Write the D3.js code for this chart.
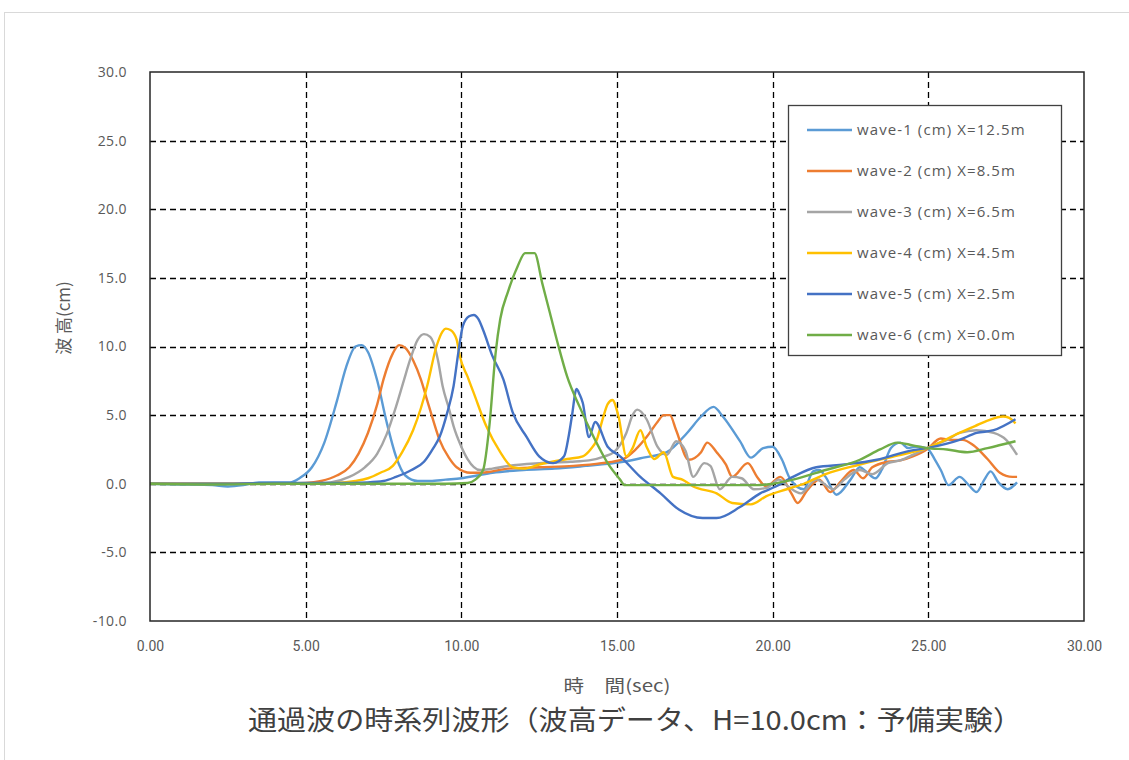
<!DOCTYPE html>
<html>
<head>
<meta charset="utf-8">
<script src="https://cdn.jsdelivr.net/npm/d3@7"></script>
<style>
  html, body { margin: 0; padding: 0; background: #fff; }
  svg { display: block; }
</style>
</head>
<body>
<script>
// Wave gauge records: time (sec) and wave height (cm)
const w1t = [0,1,2,2.5,3,3.5,4,4.5,4.8,5.2,5.6,6.0,6.3,6.6,6.8,7.0,7.3,7.6,7.9,8.2,8.6,9.0,9.5,10.0,10.5,11,12,13,14,14.45,15.2,15.85,16.6,17.25,17.7,18.1,18.4,18.95,19.3,19.7,20.0,20.3,20.55,21.0,21.3,21.5,21.7,22.05,22.5,22.8,23.0,23.3,23.5,23.8,24.1,24.35,24.6,24.95,25.2,25.4,25.65,26.0,26.3,26.55,26.8,27.0,27.25,27.55,27.85];
const w1v = [0,-0.05,-0.1,-0.2,-0.1,0.1,0.1,0.1,0.4,1.2,3.0,6.0,8.5,10.0,10.1,9.6,7.5,4.5,2.0,0.6,0.2,0.2,0.3,0.4,0.6,0.8,1.0,1.1,1.3,1.4,1.6,1.9,2.3,3.7,4.9,5.6,4.9,3.1,1.9,2.6,2.7,1.75,0.4,-0.4,0.9,1.0,0.5,-0.8,0.3,1.2,0.9,0.4,1.0,2.6,3.0,2.6,2.7,2.6,1.8,1.0,-0.1,0.5,-0.1,-0.6,0.3,0.9,0.1,-0.4,0.1];

const w2t = [0,2,4,5,5.5,6.0,6.4,6.7,7.0,7.3,7.5,7.8,8.0,8.2,8.45,8.7,8.9,9.1,9.3,9.6,9.85,10.3,10.6,11.5,12.5,13.6,14.5,15.2,15.6,15.95,16.3,16.5,16.7,16.9,17.3,17.7,17.9,18.2,18.5,18.7,19.2,19.5,19.8,20.25,20.6,20.8,21.1,21.5,21.85,22.2,22.6,22.9,23.2,23.7,24.1,24.5,24.95,25.4,25.7,26.1,26.45,26.9,27.3,27.7,27.85];
const w2v = [0,0,0,0.05,0.2,0.6,1.2,2.2,3.7,5.8,7.6,9.5,10.1,9.9,9.0,7.6,6.1,4.6,3.2,1.9,1.2,0.8,0.8,1.1,1.2,1.3,1.5,1.8,2.5,3.4,4.5,5.0,5.0,3.9,1.75,2.3,3.0,2.3,1.4,0.5,1.5,0.5,-0.2,0.5,-0.7,-1.4,-0.5,0.3,-0.6,0.2,1.0,0.4,1.2,1.6,1.7,2.0,2.5,3.3,3.2,3.2,2.8,1.8,0.8,0.5,0.5];

const w3t = [0,3,5,5.8,6.4,6.9,7.3,7.6,7.9,8.15,8.35,8.6,8.8,9.0,9.1,9.25,9.4,9.6,9.75,10.0,10.2,10.6,11.0,11.5,12.5,13.5,14.1,14.6,14.9,15.3,15.5,15.65,15.95,16.3,16.6,16.9,17.2,17.45,17.8,18.0,18.3,18.7,19.0,19.4,19.8,20.2,20.5,20.9,21.4,21.95,22.3,22.8,23.2,23.7,24.1,24.5,24.95,25.6,26.0,26.55,27.1,27.5,27.85];
const w3v = [0,0,0,0.1,0.5,1.2,2.2,3.6,5.6,7.5,9.0,10.5,10.9,10.7,10.3,9.0,7.1,5.5,4.2,2.7,1.8,1.0,1.1,1.3,1.5,1.6,1.7,2.0,2.3,3.7,5.0,5.4,4.7,2.7,2.1,3.1,2.4,0.5,1.5,1.3,-0.4,0.5,0.4,-0.4,-0.3,0.3,-0.2,-0.7,0.3,-0.4,0.3,1.0,0.7,1.5,1.7,2.1,2.6,3.2,3.7,3.9,3.7,3.2,2.1];

const w4t = [0,2,5,6,6.6,7.0,7.4,7.8,8.1,8.45,8.7,8.9,9.2,9.4,9.5,9.65,9.85,9.95,10.2,10.4,10.8,11.25,11.65,12.0,12.5,13.4,13.9,14.15,14.35,14.55,14.7,14.85,15.05,15.3,15.5,15.75,15.95,16.2,16.5,16.8,17.1,17.45,18.2,18.7,19.3,19.8,20.45,21.0,21.7,22.8,23.9,24.95,26.0,26.5,26.9,27.4,27.6,27.8];
const w4v = [0,0,0,0.05,0.2,0.4,0.8,1.3,2.3,3.9,5.5,7.1,10.0,11.1,11.3,11.2,10.5,9.3,7.8,6.6,4.2,2.3,1.2,1.1,1.4,1.8,2.0,2.5,3.2,4.8,5.8,6.1,4.9,2.0,2.6,3.9,2.7,1.8,2.3,0.5,0.3,-0.2,-0.7,-1.4,-1.5,-0.9,-0.4,0.0,0.7,1.4,2.0,2.6,3.7,4.2,4.6,4.9,4.8,4.4];

const w5t = [0,2,4,6,7.0,7.5,7.9,8.4,8.8,9.1,9.3,9.55,9.75,9.9,10.05,10.25,10.4,10.55,10.7,11.0,11.35,11.65,12.1,12.5,12.95,13.3,13.45,13.55,13.7,13.8,13.9,14.1,14.3,14.7,15.1,15.75,16.4,17.0,17.75,18.2,18.95,19.6,20.1,20.65,21.4,22.3,23.35,24.4,24.95,26.0,26.55,27.1,27.8];
const w5v = [0,0,0.05,0.05,0.1,0.2,0.5,1.0,1.6,2.6,3.4,5.2,7.1,9.5,11.5,12.2,12.3,12.0,11.2,9.3,7.6,5.2,3.4,2.0,1.5,2.0,3.5,4.9,6.9,6.5,5.9,3.4,4.5,2.7,2.0,0.5,-0.7,-1.9,-2.5,-2.5,-1.7,-0.7,-0.2,0.5,1.2,1.4,1.75,2.4,2.6,3.2,3.7,3.9,4.7];

const w6t = [0,2,4,6,8,9.5,10.2,10.45,10.7,10.9,11.1,11.25,11.5,11.8,12.05,12.35,12.6,12.85,13.1,13.4,13.8,14.25,14.7,15.1,15.25,16,18,19.5,20.0,20.65,21.7,22.8,23.45,24.0,24.5,24.95,25.6,26.25,26.9,27.8];
const w6v = [0,-0.05,0,0,0,0,0.05,0.3,1.0,4.2,9.5,12.0,14.0,15.8,16.8,16.8,14.6,12.4,10.2,7.8,5.6,3.4,1.5,0.3,-0.1,-0.1,-0.1,-0.1,0.0,0.3,1.0,1.75,2.5,3.0,2.8,2.6,2.5,2.3,2.6,3.1];

const seriesNames = [
  "wave-1 (cm) X=12.5m",
  "wave-2 (cm) X=8.5m",
  "wave-3 (cm) X=6.5m",
  "wave-4 (cm) X=4.5m",
  "wave-5 (cm) X=2.5m",
  "wave-6 (cm) X=0.0m"
];
const seriesTimes = [w1t, w2t, w3t, w4t, w5t, w6t];
const seriesValues = [w1v, w2v, w3v, w4v, w5v, w6v];
const seriesColors = ["#5B9BD5", "#ED7D31", "#A5A5A5", "#FFC000", "#4472C4", "#70AD47"];

const xTicks = [0, 5, 10, 15, 20, 25, 30];
const yTicks = [-10, -5, 0, 5, 10, 15, 20, 25, 30];

const xTitle = "時　間(sec)";
const yTitle = "波 高(cm)";
const chartTitle = "通過波の時系列波形（波高データ、H=10.0cm：予備実験）";

const W = 1129, H = 760;
const plot = { left: 150, top: 72, right: 1084, bottom: 621 };

const svg = d3.select("body").append("svg")
  .attr("width", W).attr("height", H);

// chart area outline
svg.append("rect")
  .attr("x", 4.5).attr("y", 12.5)
  .attr("width", W + 10).attr("height", H + 10)
  .attr("fill", "#fff").attr("stroke", "#d9d9d9").attr("stroke-width", 1);

const x = d3.scaleLinear().domain([0, 30]).range([plot.left, plot.right]);
const y = d3.scaleLinear().domain([-10, 30]).range([plot.bottom, plot.top]);

// dashed grid
const grid = svg.append("g");
grid.selectAll("line.h").data(yTicks.filter(v => v > -10 && v < 30)).join("line")
  .attr("x1", plot.left).attr("x2", plot.right)
  .attr("y1", d => Math.round(y(d)) + 0.5).attr("y2", d => Math.round(y(d)) + 0.5)
  .attr("stroke", "#000").attr("stroke-width", 1.3).attr("stroke-dasharray", "6,4");
grid.selectAll("line.v").data(xTicks.filter(v => v > 0 && v < 30)).join("line")
  .attr("x1", d => Math.round(x(d)) + 0.5).attr("x2", d => Math.round(x(d)) + 0.5)
  .attr("y1", plot.top).attr("y2", plot.bottom)
  .attr("stroke", "#000").attr("stroke-width", 1.3).attr("stroke-dasharray", "6,4");

// axes (labels only; frame drawn separately)
const yAxis = d3.axisLeft(y).tickValues(yTicks).tickSize(0).tickPadding(23)
  .tickFormat(d => d.toFixed(1));
const gy = svg.append("g").attr("transform", `translate(${plot.left},0)`).call(yAxis);
gy.select(".domain").remove();
gy.selectAll("text")
  .attr("fill", "#595959")
  .style("font-family", "'Open Sans', 'DejaVu Sans', sans-serif")
  .style("font-size", "14px")
  .style("letter-spacing", "0.4px");

const xAxis = d3.axisBottom(x).tickValues(xTicks).tickSize(0).tickPadding(20)
  .tickFormat(d => d.toFixed(2));
const gx = svg.append("g").attr("transform", `translate(0,${plot.bottom})`).call(xAxis);
gx.select(".domain").remove();
gx.selectAll("text")
  .attr("fill", "#595959")
  .style("font-family", "'Liberation Sans Narrow', 'Roboto', sans-serif")
  .style("font-size", "14px");

// series
const line = d3.line()
  .x(d => x(d[0])).y(d => y(d[1]))
  .curve(d3.curveMonotoneX);

const lines = svg.append("g");
seriesNames.forEach((name, i) => {
  const pts = seriesTimes[i].map((t, j) => [t, seriesValues[i][j]]);
  lines.append("path")
    .datum(pts)
    .attr("d", line)
    .attr("fill", "none")
    .attr("stroke", seriesColors[i])
    .attr("stroke-width", 2.4)
    .attr("stroke-linejoin", "round");
});

// plot frame
svg.append("rect")
  .attr("x", plot.left).attr("y", plot.top)
  .attr("width", plot.right - plot.left).attr("height", plot.bottom - plot.top)
  .attr("fill", "none").attr("stroke", "#262626").attr("stroke-width", 1.5);

// legend
const lg = svg.append("g");
lg.append("rect")
  .attr("x", 788.5).attr("y", 105.5).attr("width", 273).attr("height", 250)
  .attr("fill", "#fff").attr("stroke", "#404040").attr("stroke-width", 1.3);
const rowY = d3.scalePoint().domain(seriesNames).range([130, 335]);
seriesNames.forEach((name, i) => {
  const yy = rowY(name);
  lg.append("line")
    .attr("x1", 807).attr("x2", 852).attr("y1", yy).attr("y2", yy)
    .attr("stroke", seriesColors[i]).attr("stroke-width", 2.4);
  lg.append("text")
    .attr("x", 857).attr("y", yy).attr("dy", "0.35em")
    .attr("fill", "#595959")
    .style("font-family", "'Open Sans', 'DejaVu Sans', sans-serif")
    .style("font-size", "15px")
    .style("letter-spacing", "1.1px")
    .text(name);
});

// axis titles
svg.append("text")
  .attr("transform", `translate(64,${318}) rotate(-90)`)
  .attr("text-anchor", "middle").attr("dy", "0.35em")
  .attr("fill", "#595959")
  .style("font-family", "'Noto Sans CJK JP', sans-serif")
  .style("font-size", "17px")
  .text(yTitle);

svg.append("text")
  .attr("x", 617).attr("y", 686).attr("dy", "0.35em")
  .attr("text-anchor", "middle")
  .attr("fill", "#595959")
  .attr("textLength", 107).attr("lengthAdjust", "spacingAndGlyphs")
  .style("font-family", "'Noto Sans CJK JP', sans-serif")
  .style("font-size", "17px")
  .text(xTitle);

svg.append("text")
  .attr("x", 635).attr("y", 721).attr("dy", "0.35em")
  .attr("text-anchor", "middle")
  .attr("fill", "#404040")
  .attr("textLength", 774).attr("lengthAdjust", "spacingAndGlyphs")
  .style("font-family", "'Noto Sans CJK JP', sans-serif")
  .style("font-size", "27px")
  .text(chartTitle);
</script>
</body>
</html>
